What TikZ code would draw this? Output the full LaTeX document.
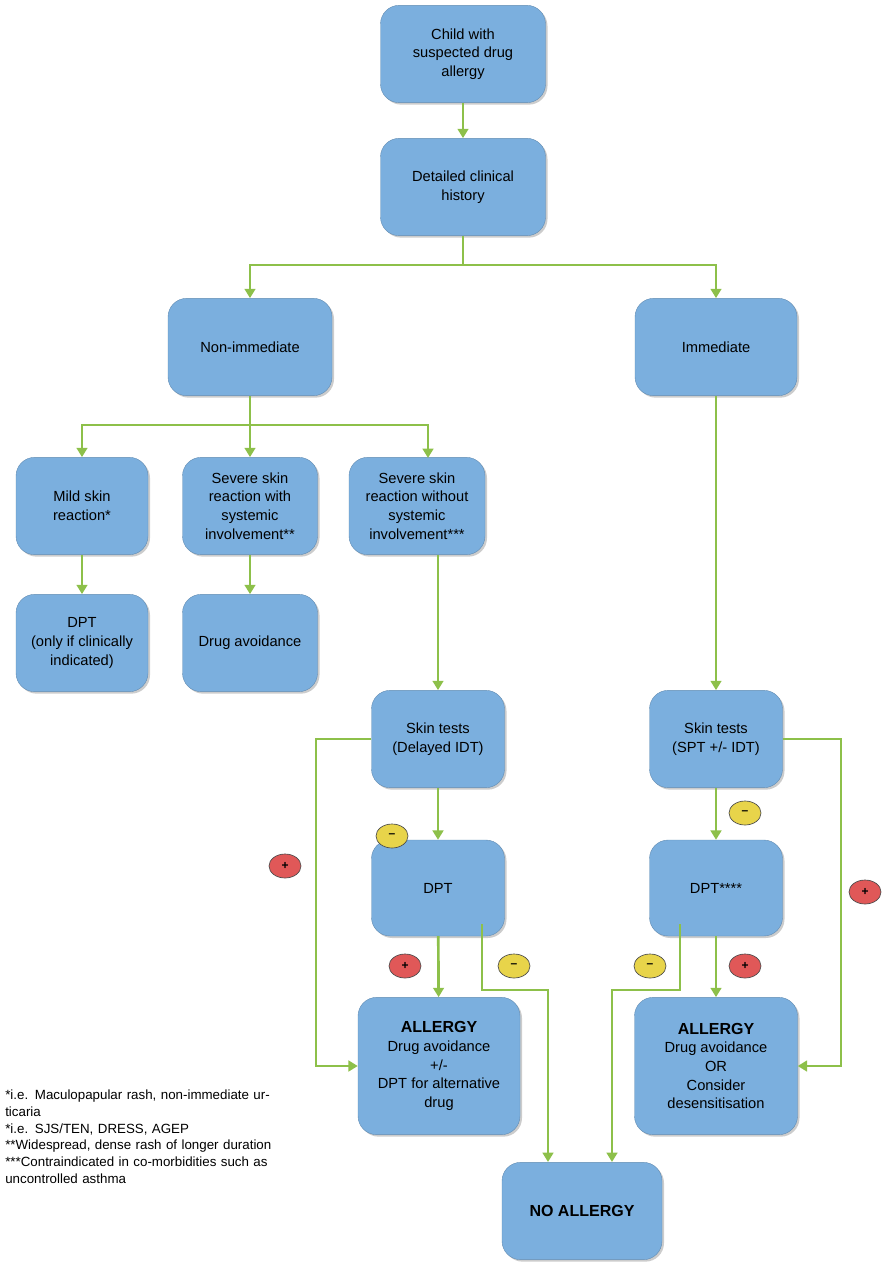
\documentclass[tikz,border=0pt]{standalone}
\usepackage{fontspec}
\setmainfont{Liberation Sans}
\usetikzlibrary{arrows.meta,shadows}
\definecolor{boxc}{HTML}{7BAFDE}
\definecolor{gr}{HTML}{8DC04A}
\definecolor{yel}{HTML}{E8D44A}
\definecolor{rd}{HTML}{E05858}
\tikzset{
 box/.style={draw=boxc!80!black,line width=0.3pt,fill=boxc,rounded corners=14pt,minimum width=#1*0.75pt,align=center,font=\fontsize{11}{14}\selectfont,drop shadow={shadow xshift=1.5pt,shadow yshift=-1.5pt,opacity=0.4}},
 box/.default=165,
 ar/.style={draw=gr,line width=2pt,-{Triangle[length=7pt,width=8pt]}},
 ln/.style={draw=gr,line width=2pt},
 sg/.style={circle,draw=black!70,line width=0.5pt,minimum width=24pt,minimum height=18pt,inner sep=0pt,font=\bfseries\small,ellipse},
}
\usetikzlibrary{shapes.geometric}
\begin{document}
\begin{tikzpicture}[x=0.75pt,y=-0.75pt]
\useasboundingbox (0,0) rectangle (890,1280);
\node[box,minimum height=73pt] (child) at (463,54) {Child with\\suspected drug\\allergy};
\node[box,minimum height=73pt] (hist) at (463,187) {Detailed clinical\\history};
\node[box=164,minimum height=73pt] (nonim) at (250,347) {Non-immediate};
\node[box=162,minimum height=73pt] (imm) at (716,347) {Immediate};
\node[box=132,minimum height=73pt] (mild) at (82,506) {Mild skin\\reaction*};
\node[box=135,minimum height=73pt] (sevw) at (250,506) {Severe skin\\reaction with\\systemic\\involvement**};
\node[box=136,minimum height=73pt] (sevwo) at (417,506) {Severe skin\\reaction without\\systemic\\involvement***};
\node[box=132,minimum height=73pt] (dpto) at (82,643) {DPT\\(only if clinically\\indicated)};
\node[box=135,minimum height=73pt] (avoid) at (250,643) {Drug avoidance};
\node[box=133,minimum height=73pt] (skd) at (438,739) {Skin tests\\(Delayed IDT)};
\node[box=133,minimum height=73pt] (sks) at (716,739) {Skin tests\\(SPT +/- IDT)};
\node[box=133,minimum height=72pt] (dptl) at (438,888) {DPT};
\node[box=133,minimum height=72pt] (dptr) at (716,888) {DPT****};
\node[box=162,minimum height=103pt] (all) at (439,1066) {\textbf{\large ALLERGY}\\Drug avoidance\\+/-\\DPT for alternative\\drug};
\node[box=163,minimum height=103pt] (alr) at (716,1066) {\textbf{\large ALLERGY}\\Drug avoidance\\OR\\Consider\\desensitisation};
\node[box=160,minimum height=73pt] (no) at (582,1211) {\textbf{\large NO ALLERGY}};

\draw[ar] (child) -- (hist);
\coordinate (j1) at (463,265);
\draw[ln] (hist) -- (j1);
\draw[ar] (j1) -| (nonim);
\draw[ar] (j1) -| (imm);
\coordinate (j2) at (250,425);
\draw[ln] (nonim) -- (j2);
\draw[ar] (j2) -| (mild);
\draw[ar] (j2) -- (sevw);
\draw[ar] (j2) -| (428,458);
\draw[ar] (mild) -- (dpto);
\draw[ar] (sevw) -- (avoid);
\draw[ar] (438,555) -- (skd);
\draw[ar] (imm) -- (sks);
\draw[ar] (skd) -- (dptl);
\draw[ar] (sks) -- (dptr);
\draw[ar] (dptl) -- (all);
\draw[ar] (dptr) -- (alr);
\draw[ar] (skd.west) -- (316,739) -- (316,1066) -- (all.west);
\draw[ar] (sks.east) -- (841,739) -- (841,1066) -- (alr.east);
\draw[ar] (482,924) -- (482,990) -- (548,990) -- (548,1162);
\draw[ar] (680,924) -- (680,990) -- (612,990) -- (612,1162);

\node[sg,fill=rd] (p1) at (285,866) {+};
\node[sg,fill=yel] (m1) at (392,836) {--};
\node[sg,fill=rd] (p2) at (405,966) {+};
\node[sg,fill=yel] (m2) at (514,966) {--};
\node[sg,fill=rd] (p3) at (865,892) {+};
\node[sg,fill=yel] (m3) at (745,813) {--};
\node[sg,fill=rd] (p4) at (745,966) {+};
\node[sg,fill=yel] (m4) at (650,966) {--};

\node[anchor=north west,align=left,font=\fontsize{10}{12.5}\selectfont,text width=205pt,inner sep=0pt] (fn) at (5,1090) {*i.e. Maculopapular rash, non-immediate urticaria\\**i.e. SJS/TEN, DRESS, AGEP\\***Widespread, dense rash of longer duration\\****Contraindicated in co-morbidities such as uncontrolled asthma};
\end{tikzpicture}
\end{document}
